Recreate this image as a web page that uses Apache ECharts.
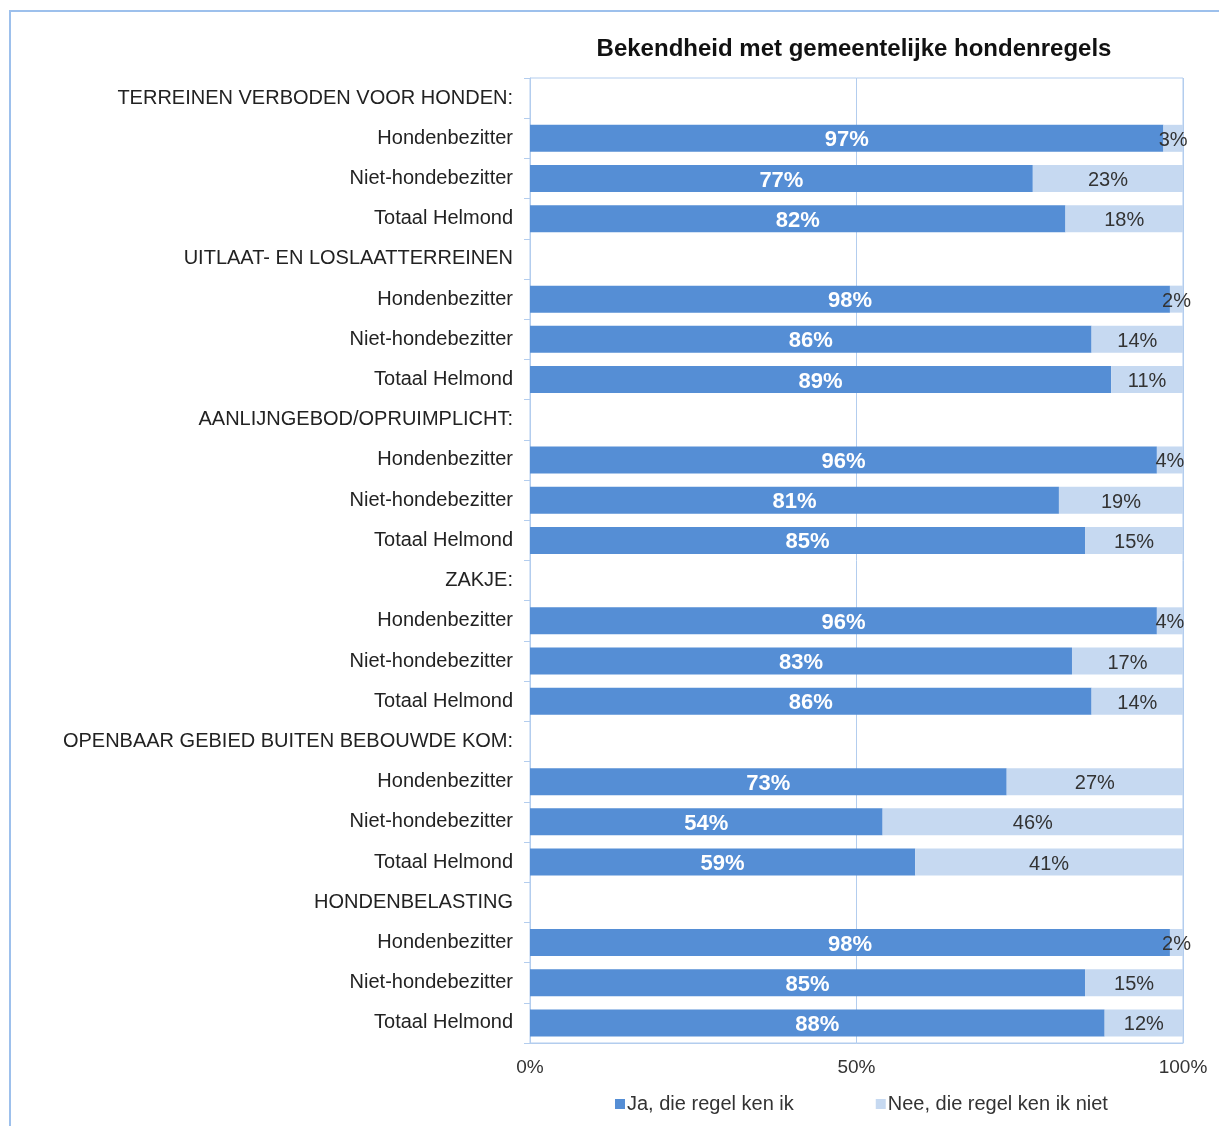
<!DOCTYPE html>
<html>
<head>
<meta charset="utf-8">
<script src="https://cdn.jsdelivr.net/npm/echarts@6/dist/echarts.min.js"></script>
<style>
  html, body { margin: 0; padding: 0; background: #fff; }
  .frame {
    position: absolute; left: 9px; top: 10px; width: 1300px; height: 1200px;
    border-left: 2px solid #9dc0ec; border-top: 2px solid #9dc0ec;
  }
  #chart { position: absolute; left: 0; top: 0; width: 1219px; height: 1126px; }
</style>
</head>
<body>
<div class="frame"></div>
<div id="chart"></div>
<script>
// categorieen (kopregels hebben geen waarde)
const categories = [
  "TERREINEN VERBODEN VOOR HONDEN:", "Hondenbezitter", "Niet-hondebezitter", "Totaal Helmond",
  "UITLAAT- EN LOSLAATTERREINEN", "Hondenbezitter", "Niet-hondebezitter", "Totaal Helmond",
  "AANLIJNGEBOD/OPRUIMPLICHT:", "Hondenbezitter", "Niet-hondebezitter", "Totaal Helmond",
  "ZAKJE:", "Hondenbezitter", "Niet-hondebezitter", "Totaal Helmond",
  "OPENBAAR GEBIED BUITEN BEBOUWDE KOM:", "Hondenbezitter", "Niet-hondebezitter", "Totaal Helmond",
  "HONDENBELASTING", "Hondenbezitter", "Niet-hondebezitter", "Totaal Helmond"
];
const jaValues = [
  null, 97, 77, 82,
  null, 98, 86, 89,
  null, 96, 81, 85,
  null, 96, 83, 86,
  null, 73, 54, 59,
  null, 98, 85, 88
];
const neeValues = [
  null, 3, 23, 18,
  null, 2, 14, 11,
  null, 4, 19, 15,
  null, 4, 17, 14,
  null, 27, 46, 41,
  null, 2, 15, 12
];
const xTicks = [0, 50, 100];

const axisColor = "#b3cdee";
const font = "'Liberation Sans', Arial, sans-serif";

const chart = echarts.init(document.getElementById("chart"));
chart.setOption({
  animation: false,
  color: ["#558ed5", "#c6d9f1"],
  textStyle: { fontFamily: font },
  title: {
    text: "Bekendheid met gemeentelijke hondenregels",
    left: 849,
    textAlign: "center",
    top: 32,
    textStyle: { fontSize: 24, fontWeight: "bold", color: "#111", fontFamily: font }
  },
  legend: {
    data: ["Ja, die regel ken ik", "Nee, die regel ken ik niet"],
    left: 610,
    top: 1089,
    icon: "rect",
    itemWidth: 10,
    itemHeight: 10,
    itemGap: 82,
    textStyle: { fontSize: 20, color: "#333", fontFamily: font, padding: [0, 0, 0, -3] }
  },
  grid: {
    show: true,
    borderColor: axisColor,
    borderWidth: 1,
    left: 530,
    right: 36,
    top: 78,
    bottom: 83
  },
  xAxis: {
    type: "value",
    min: 0,
    max: 100,
    interval: 50,
    axisLine: { show: true, lineStyle: { color: axisColor } },
    axisTick: { show: false },
    splitLine: { show: true, lineStyle: { color: axisColor } },
    axisLabel: {
      fontSize: 19,
      color: "#333",
      margin: 15,
      formatter: v => (xTicks.includes(v) ? v + "%" : "")
    }
  },
  yAxis: {
    type: "category",
    inverse: true,
    data: categories,
    axisLine: { show: true, lineStyle: { color: axisColor } },
    axisTick: { show: true, length: 6, lineStyle: { color: axisColor } },
    axisLabel: { fontSize: 20, color: "#222", margin: 17, interval: 0 }
  },
  series: [
    {
      name: "Ja, die regel ken ik",
      type: "bar",
      stack: "totaal",
      barWidth: 27,
      data: jaValues,
      label: {
        show: true,
        position: "inside",
        formatter: p => p.value + "%",
        color: "#fff",
        fontWeight: "bold",
        fontSize: 22,
        offset: [0, 2]
      }
    },
    {
      name: "Nee, die regel ken ik niet",
      type: "bar",
      stack: "totaal",
      barWidth: 27,
      data: neeValues,
      label: {
        show: true,
        position: "inside",
        formatter: p => p.value + "%",
        color: "#333",
        fontSize: 20,
        offset: [0, 2]
      }
    }
  ]
});
</script>
</body>
</html>
